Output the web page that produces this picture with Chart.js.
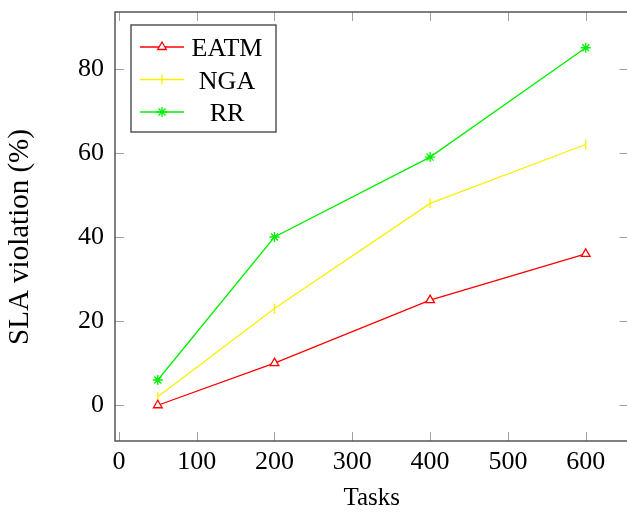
<!DOCTYPE html>
<html>
<head>
<meta charset="utf-8">
<script src="https://cdn.jsdelivr.net/npm/chart.js@4.4.0/dist/chart.umd.min.js"></script>
<style>
  html, body { margin: 0; padding: 0; background: #fff; overflow: hidden; }
  #wrap { width: 627px; height: 513px; overflow: hidden; }
</style>
</head>
<body>
<div id="wrap"><canvas id="slaChart" width="640" height="513"></canvas></div>
<script>
// Sample data
const tasks = [50, 200, 400, 600];
const eatm = [0, 10, 25, 36];
const nga = [2, 23, 48, 62];
const rr = [6, 40, 59, 85];
const seriesNames = ['EATM', 'NGA', 'RR'];
const xTicks = [0, 100, 200, 300, 400, 500, 600];
const yTicks = [0, 20, 40, 60, 80];

const FONT = '"Liberation Serif", "Times New Roman", serif';
const toPoints = vals => tasks.map((t, i) => ({ x: t, y: vals[i] }));

function series(label, vals, color, style, extra) {
    return Object.assign({
        label: label,
        data: toPoints(vals),
        borderColor: color,
        backgroundColor: color,
        borderWidth: 1.3,
        pointStyle: style,
        pointRadius: 5,
        pointBorderWidth: 1.3,
        pointBorderColor: color,
        pointBackgroundColor: '#fff',
        tension: 0,
        fill: false
    }, extra || {});
}

// no extra label padding around the plot box
function noPad(s) {
    s.paddingTop = 0; s.paddingBottom = 0;
    s.paddingLeft = 0; s.paddingRight = 0;
}

// Inward tick marks on all four sides plus the axis frame
const frameTicks = {
    id: 'frameTicks',
    beforeDatasetsDraw(chart) {
        const { ctx, chartArea: a, scales: { x, y } } = chart;
        const len = 9;
        ctx.save();
        ctx.strokeStyle = '#a0a0a0';
        ctx.lineWidth = 1;
        ctx.beginPath();
        xTicks.forEach(v => {
            const px = Math.round(x.getPixelForValue(v)) + 0.5;
            ctx.moveTo(px, a.bottom); ctx.lineTo(px, a.bottom - len);
            ctx.moveTo(px, a.top); ctx.lineTo(px, a.top + len);
        });
        yTicks.forEach(v => {
            const py = Math.round(y.getPixelForValue(v)) + 0.5;
            ctx.moveTo(a.left, py); ctx.lineTo(a.left + len, py);
            ctx.moveTo(a.right, py); ctx.lineTo(a.right - len, py);
        });
        ctx.stroke();
        ctx.strokeStyle = '#4a4a4a';
        ctx.lineWidth = 1.4;
        ctx.strokeRect(a.left, a.top, a.right - a.left, a.bottom - a.top);
        ctx.restore();
    },
    afterDraw(chart) {
        const { ctx } = chart;
        // y axis title
        ctx.save();
        ctx.translate(20, 237);
        ctx.rotate(-Math.PI / 2);
        ctx.font = '29px ' + FONT;
        ctx.fillStyle = '#000';
        ctx.textAlign = 'center';
        ctx.textBaseline = 'middle';
        ctx.fillText('SLA violation (%)', 0, 0);
        ctx.restore();

        // legend box
        const box = { x: 131, y: 25, w: 145, h: 107 };
        ctx.save();
        ctx.fillStyle = '#fff';
        ctx.fillRect(box.x, box.y, box.w, box.h);
        ctx.strokeStyle = '#4a4a4a';
        ctx.lineWidth = 1.4;
        ctx.strokeRect(box.x, box.y, box.w, box.h);
        chart.data.datasets.forEach((ds, i) => {
            const ry = 47 + i * 32.5;
            ctx.strokeStyle = ds.borderColor;
            ctx.lineWidth = ds.borderWidth;
            ctx.beginPath();
            ctx.moveTo(140, ry); ctx.lineTo(184, ry);
            ctx.stroke();
            ctx.fillStyle = ds.pointBackgroundColor;
            ctx.lineWidth = ds.pointBorderWidth;
            Chart.helpers.drawPoint(ctx, {
                pointStyle: ds.pointStyle,
                radius: ds.pointRadius,
                rotation: ds.pointRotation || 0,
                borderWidth: ds.pointBorderWidth
            }, 162, ry);
            ctx.fillStyle = '#000';
            ctx.font = '26px ' + FONT;
            ctx.textAlign = 'center';
            ctx.textBaseline = 'alphabetic';
            ctx.fillText(ds.label, 227, ry + 9);
        });
        ctx.restore();
    }
};

let ctxLine = document.getElementById('slaChart').getContext('2d');
new Chart(ctxLine, {
    type: 'line',
    data: {
        datasets: [
            series(seriesNames[0], eatm, '#ff0000', 'triangle'),
            series(seriesNames[1], nga, '#f8f000', 'line', { pointRotation: 90 }),
            series(seriesNames[2], rr, '#00f000', 'star')
        ]
    },
    options: {
        responsive: false,
        animation: false,
        // plot box runs just past the visible right edge
        layout: { autoPadding: false, padding: { left: 0, top: 12, right: 11.5, bottom: 0 } },
        plugins: {
            legend: { display: false },
            tooltip: { enabled: false }
        },
        scales: {
            x: {
                type: 'linear',
                min: -5,
                max: 655,
                grid: { display: false, drawTicks: false },
                border: { display: false },
                afterBuildTicks: s => { s.ticks = xTicks.map(v => ({ value: v })); },
                afterFit: s => { s.height = 72; noPad(s); },
                ticks: {
                    padding: 6,
                    maxRotation: 0,
                    color: '#000',
                    font: { family: FONT, size: 26 }
                },
                title: {
                    display: true,
                    text: 'Tasks',
                    color: '#000',
                    padding: { top: 0, bottom: 0 },
                    font: { family: FONT, size: 25 }
                }
            },
            y: {
                min: -8.5,
                max: 93.5,
                grid: { display: false, drawTicks: false },
                border: { display: false },
                afterBuildTicks: s => { s.ticks = yTicks.map(v => ({ value: v })); },
                afterFit: s => { s.width = 115; noPad(s); },
                ticks: {
                    padding: 11,
                    color: '#000',
                    font: { family: FONT, size: 26 }
                }
            }
        }
    },
    plugins: [frameTicks]
});
</script>
</body>
</html>
